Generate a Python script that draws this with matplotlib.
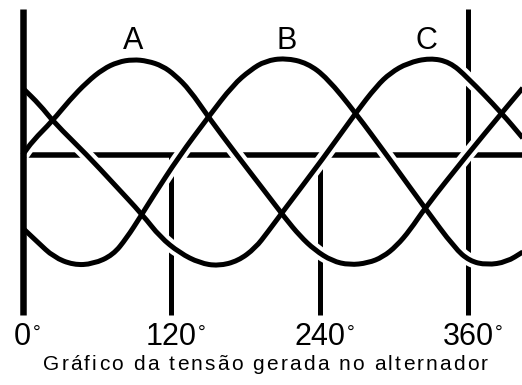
import matplotlib
matplotlib.use('Agg')
import matplotlib.pyplot as plt
from matplotlib.path import Path
from matplotlib.patches import PathPatch
from matplotlib.textpath import TextToPath
from matplotlib.font_manager import FontProperties

plt.rcParams['font.family'] = ['Liberation Sans', 'DejaVu Sans']

# phase curves: angle in degrees, voltage (axis = 0)
a_deg = [0, 8, 24, 38, 52, 65, 77, 89, 101, 113, 123, 135, 150, 173, 196,
         212, 224, 236, 250, 264, 279, 291, 302, 313, 325, 359, 387, 404]
a_val = [0.0, 0.14, 0.34, 0.55, 0.73, 0.86, 0.93, 0.955, 0.94, 0.89, 0.80,
         0.65, 0.38, 0.0, -0.37, -0.63, -0.81, -0.95, -1.06, -1.10, -1.08,
         -1.02, -0.91, -0.75, -0.53, 0.0, 0.42, 0.67]

b_deg = [0, 12, 25, 41, 57, 73, 84, 95, 105, 126, 150, 170, 184, 196, 212,
         230, 246, 269, 294, 301, 325, 349, 361, 375, 391, 404]
b_val = [-0.73, -0.87, -1.02, -1.10, -1.09, -1.00, -0.83, -0.62, -0.42,
         -0.02, 0.38, 0.70, 0.85, 0.94, 0.97, 0.92, 0.77, 0.42, 0.0, -0.12,
         -0.53, -0.93, -1.06, -1.10, -1.07, -0.97]

c_deg = [0, 14, 25, 52, 73, 97, 111, 127, 143, 158, 174, 188, 198, 210, 243,
         269, 286, 297, 311, 329, 345, 359, 387, 404]
c_val = [0.67, 0.50, 0.33, 0.0, -0.28, -0.60, -0.82, -0.98, -1.08, -1.11,
         -1.06, -0.93, -0.77, -0.57, -0.03, 0.42, 0.69, 0.82, 0.92, 0.97,
         0.93, 0.78, 0.42, 0.17]

phase_names = ['A', 'B', 'C']
phase_label_deg = [89, 213, 326]
tick_deg = [0, 120, 240, 360]
tick_labels = ['0', '120', '240', '360']
caption = 'Gráfico da tensão gerada no alternador'

PX = 0.72  # points per pixel at dpi 100


def smooth_path(xs, ys):
    # quadratic bezier through the midpoints, read points act as controls
    verts = [(xs[0], ys[0]), ((xs[0] + xs[1]) / 2, (ys[0] + ys[1]) / 2)]
    codes = [Path.MOVETO, Path.LINETO]
    for i in range(1, len(xs) - 1):
        verts += [(xs[i], ys[i]), ((xs[i] + xs[i + 1]) / 2, (ys[i] + ys[i + 1]) / 2)]
        codes += [Path.CURVE3, Path.CURVE3]
    verts.append((xs[-1], ys[-1]))
    codes.append(Path.LINETO)
    return Path(verts, codes)


fig = plt.figure(figsize=(5.22, 3.85), dpi=100)
ax = fig.add_axes([0, 0, 1, 1])
ax.set_xlim(-18.3, 403.4)
ax.set_ylim(-2.30, 1.55)
ax.axis('off')

# zero axis and the angle markers
ax.plot([0, 410], [0, 0], color='black', lw=5.5 * PX, solid_capstyle='butt', zorder=1)
for d in tick_deg[1:]:
    top = 1.46 if d == 360 else 0
    ax.plot([d, d], [top, -1.60], color='black', lw=5 * PX,
            solid_capstyle='butt', zorder=1)

curves = [(a_deg, a_val), (b_deg, b_val), (c_deg, c_val)]

# white halos cut the axis lines where the curves pass
for xs, ys in curves:
    ax.add_patch(PathPatch(smooth_path(xs, ys), fill=False, edgecolor='white',
                           lw=13 * PX, capstyle='butt', joinstyle='round', zorder=2))

ax.plot([0, 0], [1.46, -1.60], color='black', lw=6.5 * PX,
        solid_capstyle='butt', zorder=3)

for xs, ys in curves:
    ax.add_patch(PathPatch(smooth_path(xs, ys), fill=False, edgecolor='black',
                           lw=5 * PX, capstyle='butt', joinstyle='round', zorder=4))

for name, d in zip(phase_names, phase_label_deg):
    ax.text(d, 1.14, name, fontsize=22, ha='center', va='center')

for d, lab in zip(tick_deg, tick_labels):
    t = ax.text(d, -1.82, lab, fontsize=22, ha='center', va='center')
    ax.annotate('°', xy=(1, 0.92), xycoords=t, xytext=(1, 0),
                textcoords='offset points', ha='left', va='top', fontsize=14)

# caption is letter-spaced in the original, so lay it out glyph by glyph
cap_size = 15
tracking = 2.2 * PX
fp = FontProperties(family='Liberation Sans', size=cap_size)
ttp = TextToPath()
widths = [ttp.get_text_width_height_descent(ch, fp, ismath=False)[0] for ch in caption]
total = sum(widths) + tracking * (len(caption) - 1)
offset = -total / 2
for ch, w in zip(caption, widths):
    ax.annotate(ch, xy=(196, -2.10), xytext=(offset, 0), textcoords='offset points',
                fontsize=cap_size, ha='left', va='center')
    offset += w + tracking

plt.savefig('out.png', dpi=100)
